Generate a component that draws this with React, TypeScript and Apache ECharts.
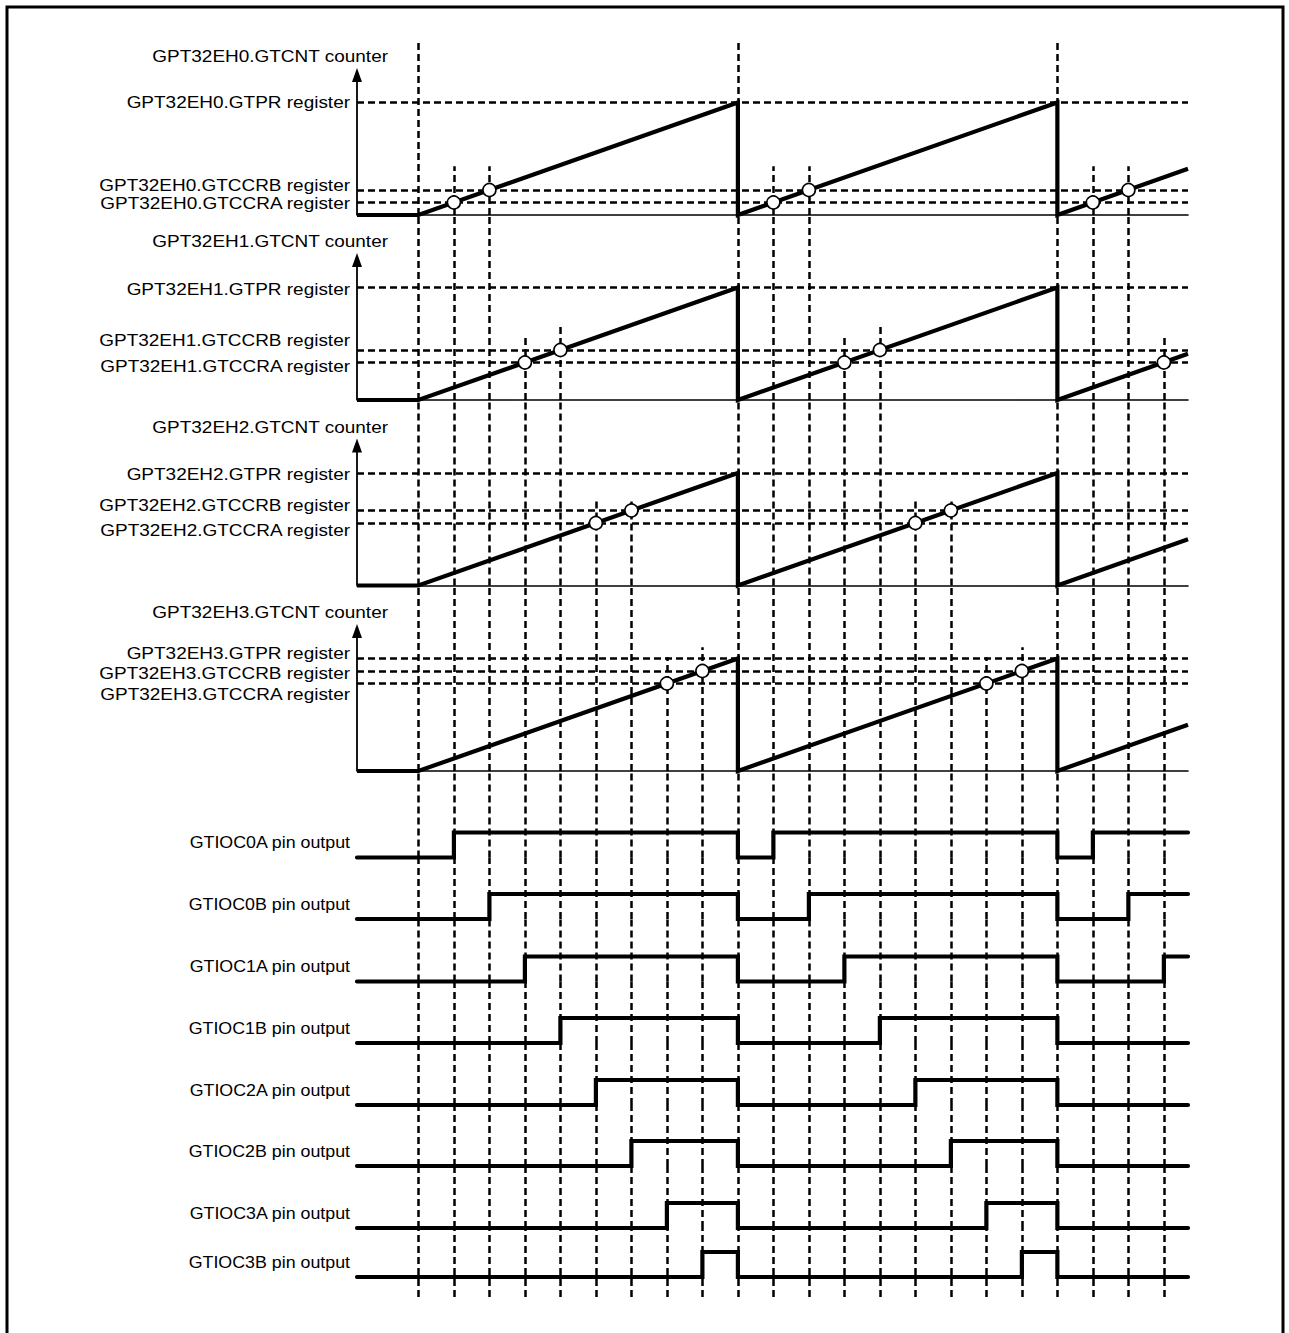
import React, { useEffect, useRef } from "react";
import * as echarts from "echarts";

// ---------- data (time in count periods, counter in counts) ----------
const T_MIN = -1.73;
const T_MAX = 21.68;

const counterTimes = [-1.73, 0, 9, 9, 18, 18, 21.68];
const counterValues = [0, 0, 9, 0, 9, 0, 3.7];
const gtprValue = 9;
const gtccraValues = [1, 3, 5, 7];
const gtccrbValues = [2, 4, 6, 8];
const matchTimesA = [[1, 10, 19], [3, 12, 21], [5, 14], [7, 16]];
const matchTimesB = [[2, 11, 20], [4, 13], [6, 15], [8, 17]];
const periodStarts = [0, 9, 18];
const guideTopA = [3.9, 5, 7, 9.1];
const guideTopB = [3.9, 5.9, 7, 9.9];
const axisArrowTop = 11.2;

const pinNames = ["GTIOC0A", "GTIOC0B", "GTIOC1A", "GTIOC1B", "GTIOC2A", "GTIOC2B", "GTIOC3A", "GTIOC3B"];
const pin0A = [1, 9, 10, 18, 19];
const pin0B = [2, 9, 11, 18, 20];
const pin1A = [3, 9, 12, 18, 21];
const pin1B = [4, 9, 13, 18];
const pin2A = [5, 9, 14, 18];
const pin2B = [6, 9, 15, 18];
const pin3A = [7, 9, 16, 18];
const pin3B = [8, 9, 17, 18];
const pinEdges = [pin0A, pin0B, pin1A, pin1B, pin2A, pin2B, pin3A, pin3B];

// ---------- layout ----------
const W = 1289;
const H = 1333;
const GRID_LEFT = 357;
const GRID_WIDTH = 831;
const counterTop = [42, 215, 400, 585.5];
const counterBottom = [215, 400, 585.5, 771];
const COUNT_PX = 12.5;
const pinLow = [857.5, 919, 981.5, 1043, 1105, 1166, 1228, 1277];
const PIN_PX = 25;
const GUIDE_BOTTOM = 1297;
// vertical nudges (px) for register labels: [GTPR, GTCCRB, GTCCRA]
const labelNudge = [
  [0, -5, 1],
  [2, -10, 4],
  [1, -5, 7],
  [-5, 2, 11],
];
const FONT = "'Liberation Sans', Arial, sans-serif";
const FONT_SIZE = 16.5;
const TEXT_SCALE_X = 1.15;
const PIN_TEXT_SCALE_X = 1.08;

const DASH = { type: [7, 4] as any, width: 2.5, color: "#000" };

function buildOption() {
  const grid: any[] = [];
  const xAxis: any[] = [];
  const yAxis: any[] = [];
  const yRange: [number, number][] = [];

  for (let p = 0; p < 4; p++) {
    const h = counterBottom[p] - counterTop[p];
    grid.push({ left: GRID_LEFT, width: GRID_WIDTH, top: counterTop[p], height: h });
    yRange.push([0, h / COUNT_PX]);
  }
  for (let k = 0; k < 8; k++) {
    const top = k === 0 ? counterBottom[3] : pinLow[k - 1];
    const bottom = k === 7 ? GUIDE_BOTTOM : pinLow[k];
    grid.push({ left: GRID_LEFT, width: GRID_WIDTH, top, height: bottom - top });
    const yMin = k === 7 ? -(GUIDE_BOTTOM - pinLow[7]) / PIN_PX : 0;
    yRange.push([yMin, (pinLow[k] - top) / PIN_PX]);
  }

  grid.forEach((_, gi) => {
    const isCounter = gi < 4;
    xAxis.push({
      type: "value",
      gridIndex: gi,
      min: T_MIN,
      max: T_MAX,
      show: isCounter,
      z: 2,
      axisLine: { show: isCounter, onZero: false, lineStyle: { color: "#000", width: 1.6 } },
      axisTick: { show: false },
      axisLabel: { show: false },
      splitLine: { show: false },
    });
    yAxis.push({
      type: "value",
      gridIndex: gi,
      min: yRange[gi][0],
      max: yRange[gi][1],
      show: false,
      splitLine: { show: false },
    });
  });

  // guide origins
  const guides: { t: number; origin: number; top: number }[] = [];
  periodStarts.forEach((t) => guides.push({ t, origin: 0, top: yRange[0][1] }));
  for (let p = 0; p < 4; p++) {
    matchTimesA[p].forEach((t) => guides.push({ t, origin: p, top: guideTopA[p] }));
    matchTimesB[p].forEach((t) => guides.push({ t, origin: p, top: guideTopB[p] }));
  }

  const series: any[] = [];
  grid.forEach((_, gi) => {
    const [y0, y1] = yRange[gi];
    const data: any[] = [];
    guides.forEach((g) => {
      if (gi < 4) {
        if (g.origin > gi) return;
        const top = g.origin === gi ? g.top : y1;
        data.push([{ coord: [g.t, y0] }, { coord: [g.t, top] }]);
      } else {
        data.push([{ coord: [g.t, y0] }, { coord: [g.t, y1] }]);
      }
    });
    if (gi < 4) {
      data.push({ yAxis: gtprValue });
      data.push({ yAxis: gtccrbValues[gi] });
      data.push({ yAxis: gtccraValues[gi] });
    }
    series.push({
      type: "line",
      xAxisIndex: gi,
      yAxisIndex: gi,
      data: [],
      z: 1,
      silent: true,
      clip: false,
      markLine: {
        z: 1,
        silent: true,
        symbol: ["none", "none"],
        label: { show: false },
        lineStyle: DASH,
        emphasis: { disabled: true },
        animation: false,
        data,
      },
    });
  });

  for (let p = 0; p < 4; p++) {
    // vertical axis line
    series.push({
      type: "line",
      xAxisIndex: p,
      yAxisIndex: p,
      data: [
        [T_MIN, 0],
        [T_MIN, axisArrowTop],
      ],
      symbol: "none",
      z: 2,
      silent: true,
      clip: false,
      lineStyle: { color: "#000", width: 1.8 },
    });
    // arrow head
    series.push({
      type: "scatter",
      xAxisIndex: p,
      yAxisIndex: p,
      data: [[T_MIN, axisArrowTop]],
      symbol: "triangle",
      symbolSize: [10, 14],
      z: 2,
      silent: true,
      clip: false,
      itemStyle: { color: "#000", opacity: 1 },
    });
    // counter
    series.push({
      type: "line",
      xAxisIndex: p,
      yAxisIndex: p,
      data: counterTimes.map((t, i) => [t, counterValues[i]]),
      symbol: "none",
      z: 3,
      silent: true,
      clip: false,
      lineStyle: { color: "#000", width: 4.2, join: "miter", cap: "butt" },
    });
    // compare match circles
    const pts: number[][] = [];
    matchTimesA[p].forEach((t) => pts.push([t, gtccraValues[p]]));
    matchTimesB[p].forEach((t) => pts.push([t, gtccrbValues[p]]));
    series.push({
      type: "scatter",
      xAxisIndex: p,
      yAxisIndex: p,
      data: pts,
      symbol: "circle",
      symbolSize: 13,
      z: 6,
      silent: true,
      clip: false,
      itemStyle: { color: "#fff", borderColor: "#000", borderWidth: 1.6, opacity: 1 },
    });
  }

  pinEdges.forEach((edges, k) => {
    const gi = 4 + k;
    const data: number[][] = [[T_MIN, 0]];
    edges.forEach((t, i) => data.push([t, (i + 1) % 2]));
    data.push([T_MAX, edges.length % 2]);
    series.push({
      type: "line",
      xAxisIndex: gi,
      yAxisIndex: gi,
      data,
      step: "end",
      symbol: "none",
      z: 3,
      silent: true,
      clip: false,
      lineStyle: { color: "#000", width: 4.2, join: "miter", cap: "round" },
    });
  });

  return {
    animation: false,
    backgroundColor: "#fff",
    grid,
    xAxis,
    yAxis,
    series,
  };
}

function textEl(text: string, x: number, y: number, sx: number) {
  return {
    type: "text",
    x,
    y,
    scaleX: sx,
    silent: true,
    z: 10,
    style: {
      text,
      fill: "#000",
      fontSize: FONT_SIZE,
      fontFamily: FONT,
      align: "right",
      verticalAlign: "middle",
    },
  };
}

export default function App() {
  const ref = useRef<HTMLDivElement>(null);
  useEffect(() => {
    if (!ref.current) return;
    const chart = echarts.init(ref.current, undefined, { renderer: "svg" });
    chart.setOption(buildOption() as any);

    const graphic: any[] = [
      {
        type: "rect",
        silent: true,
        shape: { x: 7, y: 7, width: 1276, height: 1400 },
        style: { fill: "none", stroke: "#000", lineWidth: 3 },
      },
    ];
    for (let p = 0; p < 4; p++) {
      const py = (v: number) => (chart.convertToPixel({ gridIndex: p } as any, [T_MIN, v]) as number[])[1];
      graphic.push(textEl(`GPT32EH${p}.GTCNT counter`, 388, py(axisArrowTop) - 18.5, TEXT_SCALE_X));
      graphic.push(textEl(`GPT32EH${p}.GTPR register`, 350, py(gtprValue) + labelNudge[p][0], TEXT_SCALE_X));
      graphic.push(textEl(`GPT32EH${p}.GTCCRB register`, 350, py(gtccrbValues[p]) + labelNudge[p][1], TEXT_SCALE_X));
      graphic.push(textEl(`GPT32EH${p}.GTCCRA register`, 350, py(gtccraValues[p]) + labelNudge[p][2], TEXT_SCALE_X));
    }
    pinNames.forEach((name, k) => {
      const y = (chart.convertToPixel({ gridIndex: 4 + k } as any, [T_MIN, 0]) as number[])[1];
      graphic.push(textEl(`${name} pin output`, 350, y - 15, PIN_TEXT_SCALE_X));
    });
    chart.setOption({ graphic } as any);

    return () => chart.dispose();
  }, []);
  return (
    <div
      ref={ref}
      style={{ position: "absolute", left: 0, top: 0, width: W, height: H, background: "#fff" }}
    />
  );
}
